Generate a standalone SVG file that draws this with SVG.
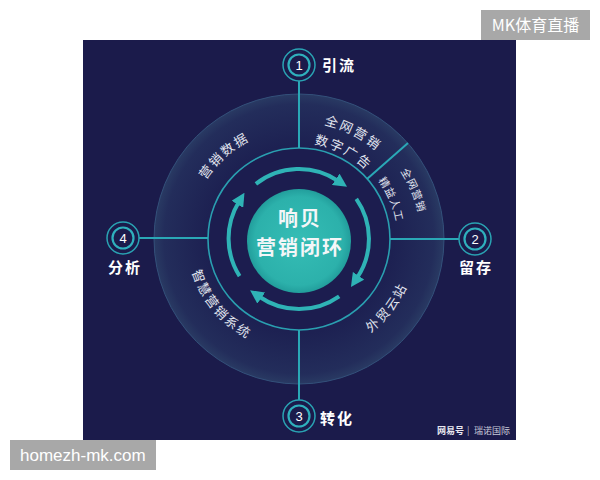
<svg xmlns="http://www.w3.org/2000/svg" width="600" height="480" viewBox="0 0 600 480">
<defs>
<radialGradient id="disc" cx="299" cy="239" r="145" gradientUnits="userSpaceOnUse">
<stop offset="0" stop-color="#1c1e50"/>
<stop offset="0.65" stop-color="#1d2152"/>
<stop offset="0.93" stop-color="#232d5b"/>
<stop offset="1" stop-color="#293a63"/>
</radialGradient>
<radialGradient id="core" cx="299" cy="241" r="52" gradientUnits="userSpaceOnUse">
<stop offset="0" stop-color="#35bdb5"/>
<stop offset="0.85" stop-color="#2cb1ab"/>
<stop offset="1" stop-color="#229e9c"/>
</radialGradient>
<marker id="ah" viewBox="0 0 10 10" refX="2" refY="5" markerWidth="3.4" markerHeight="3.4" markerUnits="strokeWidth" orient="auto">
<path d="M0,0 L10,5 L0,10 Z" fill="#2fb3b6"/>
</marker>
<path id="p1" d="M190.1,223.7 A110,110 0 0 1 295.2,129.1"/>
<path id="p2a" d="M272.7,125.0 A117,117 0 0 1 406.7,193.3"/>
<path id="p2b" d="M277.4,145.5 A96,96 0 0 1 387.4,201.5"/>
<path id="p3a" d="M354.4,130.3 A122,122 0 0 1 415.7,274.7"/>
<path id="p3b" d="M343.5,150.9 A98,98 0 0 1 392.7,267.7"/>
<path id="p4" d="M323.5,354.4 A118,118 0 0 0 416.9,234.9"/>
<path id="p5" d="M188.7,219.6 A112,112 0 0 0 299,351"/>
</defs>
<style>
.band{font-family:"Noto Sans CJK SC","Noto Sans",sans-serif;font-size:13px;fill:#e2e6f0;letter-spacing:2px}
.small{font-size:10.5px;letter-spacing:1px}
.lbl{font-family:"Noto Sans CJK SC",sans-serif;font-size:15px;font-weight:bold;fill:#ffffff;letter-spacing:2px}
.ring-o{fill:#1b1b4b;stroke:#2aa3b3;stroke-width:1.5}
.ring-i{fill:#1b1b4b;stroke:#2fb0bd;stroke-width:2.2}
.num{font-family:"Liberation Sans",sans-serif;font-size:13px;fill:#ffffff;text-anchor:middle}
.con{stroke:#2aa8b6;stroke-width:2;fill:none}
.arc{stroke:#2fb3b6;stroke-width:4;fill:none;marker-end:url(#ah)}
.tag{fill:#a8a8a8}
.wm{font-family:"Noto Sans CJK SC",sans-serif;font-size:9px}
</style>
<rect x="0" y="0" width="600" height="480" fill="#ffffff"/>
<rect x="83" y="40" width="433" height="400" fill="#1b1b4b"/>
<circle cx="299" cy="239" r="145" fill="url(#disc)" stroke="#33507a" stroke-width="1"/>
<circle cx="299" cy="239" r="91" fill="#1c1d4f" stroke="#2a9fb0" stroke-width="1.6"/>
<g id="connectors">
<line class="con" x1="299" y1="81" x2="299" y2="148"/>
<line class="con" x1="459" y1="239" x2="390" y2="239"/>
<line class="con" x1="299" y1="400" x2="299" y2="330"/>
<line class="con" x1="139" y1="238" x2="208" y2="238"/>
<line class="con" x1="367" y1="179" x2="408" y2="143"/>
<path class="arc" d="M255.9,183.8 A70,70 0 0 1 338.0,180.8"/>
<path class="arc" d="M356.3,198.8 A70,70 0 0 1 357.0,278.0"/>
<path class="arc" d="M339.2,296.3 A70,70 0 0 1 259.0,296.5"/>
<path class="arc" d="M239.6,276.1 A70,70 0 0 1 238.8,202.0"/>
</g>
<g id="core-node">
<circle cx="299" cy="241" r="52" fill="url(#core)"/>
<text x="300" y="226" font-family="Noto Sans CJK SC,sans-serif" font-size="20" font-weight="bold" fill="#f4f6f8" text-anchor="middle" letter-spacing="2">响贝</text>
<text x="300" y="255" font-family="Noto Sans CJK SC,sans-serif" font-size="20" font-weight="bold" fill="#f4f6f8" text-anchor="middle" letter-spacing="2">营销闭环</text>
</g>
<g id="band-labels">
<text class="band"><textPath href="#p1" startOffset="50%" text-anchor="middle">营销数据</textPath></text>
<text class="band"><textPath href="#p2a" startOffset="50%" text-anchor="middle">全网营销</textPath></text>
<text class="band"><textPath href="#p2b" startOffset="50%" text-anchor="middle">数字广告</textPath></text>
<text class="band small"><textPath href="#p3a" startOffset="50%" text-anchor="middle">全网营销</textPath></text>
<text class="band small"><textPath href="#p3b" startOffset="50%" text-anchor="middle">精益人工</textPath></text>
<text class="band"><textPath href="#p4" startOffset="50%" text-anchor="middle">外贸云站</textPath></text>
<text class="band"><textPath href="#p5" startOffset="50%" text-anchor="middle">智慧营销系统</textPath></text>
</g>
<g id="node1">
<circle class="ring-o" cx="299" cy="65" r="16"/>
<circle class="ring-i" cx="299" cy="65" r="10.5"/>
<text class="num" x="299" y="70">1</text>
<text class="lbl" x="322" y="71">引流</text>
</g>
<g id="node2">
<circle class="ring-o" cx="475" cy="239" r="16"/>
<circle class="ring-i" cx="475" cy="239" r="10.5"/>
<text class="num" x="475" y="244">2</text>
<text class="lbl" x="476" y="273" text-anchor="middle">留存</text>
</g>
<g id="node3">
<circle class="ring-o" cx="299" cy="416" r="16"/>
<circle class="ring-i" cx="299" cy="416" r="10.5"/>
<text class="num" x="299" y="421">3</text>
<text class="lbl" x="320" y="424">转化</text>
</g>
<g id="node4">
<circle class="ring-o" cx="123" cy="238" r="16"/>
<circle class="ring-i" cx="123" cy="238" r="10.5"/>
<text class="num" x="123" y="243">4</text>
<text class="lbl" x="125" y="273" text-anchor="middle">分析</text>
</g>
<text class="wm" x="437" y="434" fill="#e8e8f0" font-weight="bold">网易号</text>
<text class="wm" x="467" y="434" fill="#b8bccc">|</text>
<text class="wm" x="474" y="434" fill="#c8cad8">瑞诺国际</text>
<rect class="tag" x="481" y="10" width="109" height="30"/>
<text x="535.5" y="31" font-family="Noto Sans CJK SC,sans-serif" font-size="16" fill="#ffffff" text-anchor="middle">MK体育直播</text>
<rect class="tag" x="10" y="440" width="146" height="30"/>
<text x="20" y="461" font-family="Liberation Sans,sans-serif" font-size="17" fill="#ffffff">homezh-mk.com</text>
</svg>
